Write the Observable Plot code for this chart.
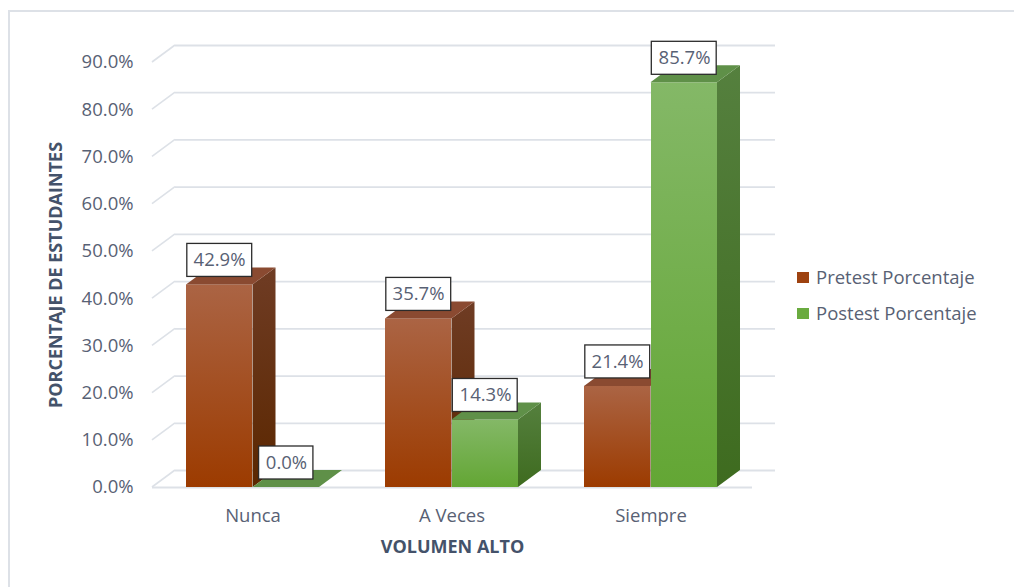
<!DOCTYPE html>
<html>
<head>
<meta charset="utf-8">
<script src="https://cdn.jsdelivr.net/npm/d3@7"></script>
<script src="https://cdn.jsdelivr.net/npm/@observablehq/plot@0.6"></script>
<style>
  html, body { margin: 0; padding: 0; background: #fff; }
  #wrap { position: relative; width: 1014px; height: 587px; overflow: hidden; font-family: "Open Sans", sans-serif; }
  #wrap svg { position: absolute; left: 0; top: 0; }
  #border { position: absolute; left: 8px; top: 10px; width: 1100px; height: 700px; border: 2px solid #dde1e7; box-sizing: border-box; pointer-events: none; }
  #legend { position: absolute; left: 797px; top: 259px; font-size: 18.5px; color: #586174; line-height: 36px; }
  #legend .item { display: flex; align-items: center; white-space: nowrap; }
  #legend .sw { width: 12px; height: 11px; margin-right: 7px; }
</style>
</head>
<body>
<div id="wrap">
  <div id="legend"></div>
  <div id="border"></div>
</div>
<script>
// ---- data ----
const categories = ["Nunca", "A Veces", "Siempre"];
const seriesNames = ["Pretest Porcentaje", "Postest Porcentaje"];
const pretestValues = [0.429, 0.357, 0.214];
const postestValues = [0.000, 0.143, 0.857];
const yTicks = [0, 0.1, 0.2, 0.3, 0.4, 0.5, 0.6, 0.7, 0.8, 0.9];
const xTitle = "VOLUMEN ALTO";
const yTitle = "PORCENTAJE DE ESTUDAINTES";

const pre = categories.map((c, i) => ({cat: c, series: seriesNames[0], value: pretestValues[i]}));
const post = categories.map((c, i) => ({cat: c, series: seriesNames[1], value: postestValues[i]}));
const fmt = d3.format(".1%");

// ---- layout / style ----
const W = 1014, H = 587;
const mLeft = 152, mRight = 262, mTop = 62, mBottom = 100;
const bandW = 134;            // bandwidth from padding 0.33 over 200px step
const DX = 23, DY = -17;      // 3D depth offset
const textColor = "#586174";
const titleColor = "#44526a";
const gridColor = "#dde1e7";
const fontFamily = "Open Sans, sans-serif";

function defs() {
  const g = d3.create("svg:g");
  const d = g.append("defs");
  const grad = (id, c1, c2) => {
    const lg = d.append("linearGradient").attr("id", id).attr("x1", 0).attr("y1", 0).attr("x2", 0).attr("y2", 1);
    lg.append("stop").attr("offset", "0%").attr("stop-color", c1);
    lg.append("stop").attr("offset", "100%").attr("stop-color", c2);
  };
  grad("gPre", "#ab6444", "#9c3b00");
  grad("gPreSide", "#6f3c24", "#5b2700");
  grad("gPost", "#84b867", "#63a634");
  grad("gPostSide", "#55803e", "#3e6b1f");
  return g.node();
}

// diagonal connectors of gridlines (front axis -> back wall)
function gridDiagonals(index, scales) {
  const g = d3.create("svg:g").attr("stroke", gridColor).attr("stroke-width", 1.6).attr("fill", "none");
  const x0 = mLeft;
  for (const t of yTicks) {
    const y = scales.y(t);
    g.append("path").attr("d", `M${x0},${y}L${x0 + DX},${y + DY}`);
  }
  return g.node();
}

// side and top faces of 3D bars
function faces(rows, right, sideFill, topFill) {
  return (index, scales) => {
    const {x, y} = scales;
    const bw = x.bandwidth();
    const g = d3.create("svg:g");
    for (const d of rows) {
      const xa = x(d.cat) + (right ? bw / 2 : 0);
      const xb = xa + bw / 2;
      const y0 = y(0), yt = y(d.value);
      if (d.value > 0) {
        g.append("path")
          .attr("d", `M${xb},${y0}L${xb + DX},${y0 + DY}L${xb + DX},${yt + DY}L${xb},${yt}Z`)
          .attr("fill", sideFill);
      }
      g.append("path")
        .attr("d", `M${xa},${yt}L${xb},${yt}L${xb + DX},${yt + DY}L${xa + DX},${yt + DY}Z`)
        .attr("fill", topFill);
    }
    return g.node();
  };
}

// white boxes behind data labels
const measureCtx = document.createElement("canvas").getContext("2d");
function labelBoxes(rows, right) {
  return (index, scales) => {
    const {x, y} = scales;
    const bw = x.bandwidth();
    measureCtx.font = `18.5px ${fontFamily}`;
    const g = d3.create("svg:g");
    for (const d of rows) {
      const cx = x(d.cat) + bw / 2 + (right ? bw / 4 : -bw / 4);
      const cy = y(d.value) - 24.5;
      const w = measureCtx.measureText(fmt(d.value)).width + 13;
      const h = 33;
      g.append("rect").attr("x", cx - w / 2).attr("y", cy - h / 2).attr("width", w).attr("height", h)
        .attr("fill", "#fff").attr("stroke", "#2b2b2b").attr("stroke-width", 1.3);
    }
    return g.node();
  };
}

const chart = Plot.plot({
  width: W,
  height: H,
  marginLeft: mLeft,
  marginRight: mRight,
  marginTop: mTop,
  marginBottom: mBottom,
  style: {fontFamily, fontSize: "18.5px", color: textColor, background: "transparent", overflow: "visible"},
  x: {domain: categories, paddingInner: 0.33, paddingOuter: 0.17, tickSize: 0, tickPadding: 21, label: null},
  y: {domain: [0, 0.9], ticks: yTicks, tickFormat: fmt, tickSize: 0, tickPadding: 19, label: null},
  marks: [
    defs,
    // back-wall gridlines
    Plot.ruleY(yTicks, {stroke: gridColor, strokeWidth: 1.8, dx: DX, dy: DY}),
    gridDiagonals,
    // front floor edge
    Plot.ruleY([0], {stroke: gridColor, strokeWidth: 1.8}),
    // pretest bars
    Plot.barY(pre, {x: "cat", y: "value", fill: "url(#gPre)", insetRight: bandW / 2}),
    faces(pre, false, "url(#gPreSide)", "#8a4a31"),
    // postest bars
    Plot.barY(post, {x: "cat", y: "value", fill: "url(#gPost)", insetLeft: bandW / 2}),
    faces(post, true, "url(#gPostSide)", "#5f9048"),
    // data labels
    labelBoxes(pre, false),
    labelBoxes(post, true),
    Plot.text(pre, {x: "cat", y: "value", text: d => fmt(d.value), dx: -bandW / 4, dy: -24.5, fill: textColor, fontSize: 18.5}),
    Plot.text(post, {x: "cat", y: "value", text: d => fmt(d.value), dx: bandW / 4, dy: -24.5, fill: textColor, fontSize: 18.5}),
    // axis titles
    Plot.text([xTitle], {frameAnchor: "bottom", dy: 65, text: d => d, textAnchor: "middle", fontWeight: "bold", fontSize: 18, fill: titleColor}),
    Plot.text([yTitle], {frameAnchor: "left", dx: -96, rotate: -90, text: d => d, textAnchor: "middle", fontWeight: "bold", fontSize: 18, fill: titleColor})
  ]
});

const wrap = document.getElementById("wrap");
wrap.insertBefore(chart, wrap.firstChild);

// legend
const legendColors = ["#9e4210", "#6aab3f"];
const legend = d3.select("#legend");
seriesNames.forEach((s, i) => {
  const item = legend.append("div").attr("class", "item");
  item.append("div").attr("class", "sw").style("background", legendColors[i]);
  item.append("span").text(s);
});
</script>
</body>
</html>
